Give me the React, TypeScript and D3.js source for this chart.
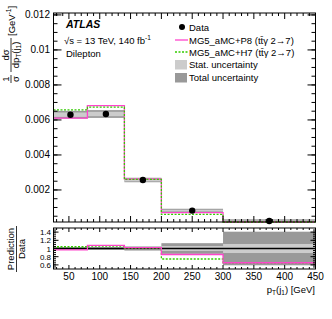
import * as d3 from "d3";

// pT(j1) bins [GeV] and normalised cross sections [GeV^-1]
const binEdges = [25, 80, 140, 200, 300, 450];
const dataValues = [0.0063, 0.00634, 0.00257, 0.00082, 0.00023];
const p8Values = [0.0061, 0.00682, 0.00262, 0.0007, 0.00015];
const h7Values = [0.00657, 0.00673, 0.0026, 0.00061, 0.00015];
// relative uncertainties
const statRel = [0.02, 0.02, 0.03, 0.06, 0.11];
const totalRel = [0.035, 0.035, 0.05, 0.13, 0.41];

const ratioTicks = [0.6, 0.8, 1, 1.2, 1.4];

const font = "'Liberation Sans', Arial, sans-serif";
const pink = "#ff44cc";
const green = "#33cc00";
const statColor = "#cccccc";
const totalColor = "#999999";

const W = 332;
const H = 319;
const frame = { left: 53.5, right: 315.5 };
const main = { top: 13, bottom: 222 };
const ratio = { top: 228, bottom: 269 };

const x = d3.scaleLinear().domain([25, 450]).range([frame.left, frame.right]);
const y = d3.scaleLinear().domain([0.00017, 0.01211]).range([main.bottom, main.top]);
const yr = d3.scaleLinear().domain([0.5, 1.5]).range([ratio.bottom, ratio.top]);

const bins = dataValues.map((v, i) => ({
  lo: binEdges[i],
  hi: binEdges[i + 1],
  data: v,
  p8: p8Values[i],
  h7: h7Values[i],
  stat: statRel[i],
  total: totalRel[i]
}));

const stepPath = (vals: number[], ys: d3.ScaleLinear<number, number>) => {
  const pts: [number, number][] = vals.map((v, i) => [binEdges[i], v]);
  pts.push([binEdges[binEdges.length - 1], vals[vals.length - 1]]);
  const lo = ys.domain()[0];
  const hi = ys.domain()[1];
  return d3
    .line<[number, number]>()
    .x(d => x(d[0]))
    .y(d => ys(Math.max(lo, Math.min(hi, d[1]))))
    .curve(d3.curveStepAfter)(pts) as string;
};

const xMajor = d3.range(50, 451, 50);
const xMinor = d3.range(30, 451, 10).filter(v => v % 50 !== 0);
const yMajor = y.ticks(6);
const yMinor = d3.range(0.0005, 0.01211, 0.0005).filter(v => v >= 0.00017);
const yrMinor = d3.range(0.55, 1.5, 0.05);
const fmt = d3.format("~g");

const Frame = ({ top, bottom, big }: { top: number; bottom: number; big: boolean }) => {
  const xl = big ? 6 : 4;
  const xs = big ? 3 : 2;
  return (
    <g stroke="#000" strokeWidth={1}>
      {xMajor.map(v => (
        <g key={"M" + v}>
          <line x1={x(v)} x2={x(v)} y1={bottom} y2={bottom - xl} />
          <line x1={x(v)} x2={x(v)} y1={top} y2={top + xl} />
        </g>
      ))}
      {xMinor.map(v => (
        <g key={"m" + v}>
          <line x1={x(v)} x2={x(v)} y1={bottom} y2={bottom - xs} />
          <line x1={x(v)} x2={x(v)} y1={top} y2={top + xs} />
        </g>
      ))}
      <rect x={frame.left} y={top} width={frame.right - frame.left} height={bottom - top} fill="none" />
    </g>
  );
};

export default function App() {
  return (
    <svg
      width={W}
      height={H}
      style={{ position: "absolute", left: 0, top: 0, background: "#fff" }}
      fontFamily={font}
    >
      {/* main panel bands */}
      {bins.map((b, i) => (
        <g key={"band" + i}>
          <rect
            x={x(b.lo)}
            width={x(b.hi) - x(b.lo)}
            y={y(b.data * (1 + b.total))}
            height={y(b.data * (1 - b.total)) - y(b.data * (1 + b.total))}
            fill={totalColor}
          />
          <rect
            x={x(b.lo)}
            width={x(b.hi) - x(b.lo)}
            y={y(b.data * (1 + b.stat))}
            height={y(b.data * (1 - b.stat)) - y(b.data * (1 + b.stat))}
            fill={statColor}
          />
        </g>
      ))}
      <path d={stepPath(p8Values, y)} fill="none" stroke={pink} strokeWidth={1.3} />
      <path d={stepPath(h7Values, y)} fill="none" stroke={green} strokeWidth={1.3} strokeDasharray="2,1.5" />
      {bins.map((b, i) => (
        <circle key={"pt" + i} cx={x((b.lo + b.hi) / 2)} cy={y(b.data)} r={3.2} fill="#000" />
      ))}
      <Frame top={main.top} bottom={main.bottom} big={true} />
      <g stroke="#000">
        {yMajor.map(v => (
          <g key={"ym" + v}>
            <line x1={frame.left} x2={frame.left + 8} y1={y(v)} y2={y(v)} />
            <line x1={frame.right} x2={frame.right - 8} y1={y(v)} y2={y(v)} />
          </g>
        ))}
        {yMinor.map(v => (
          <g key={"yn" + v}>
            <line x1={frame.left} x2={frame.left + 4} y1={y(v)} y2={y(v)} />
            <line x1={frame.right} x2={frame.right - 4} y1={y(v)} y2={y(v)} />
          </g>
        ))}
      </g>
      {yMajor.map(v => (
        <text key={"yl" + v} x={50} y={y(v) + 3.5} fontSize={10} textAnchor="end" fill="#000">
          {fmt(v)}
        </text>
      ))}

      {/* labels inside the main panel */}
      <text x={66} y={28} fontSize={10.5} fontWeight="bold" fontStyle="italic">ATLAS</text>
      <text x={64} y={44} fontSize={9.5}>
        √s = 13 TeV, 140 fb<tspan dy={-4} fontSize={6.5}>-1</tspan>
      </text>
      <text x={66} y={57} fontSize={9.5}>Dilepton</text>

      {/* legend */}
      <circle cx={182} cy={27} r={3} fill="#000" />
      <text x={189} y={30.5} fontSize={9.5}>Data</text>
      <line x1={175} x2={188} y1={40} y2={40} stroke={pink} strokeWidth={1.3} />
      <text x={189} y={43.5} fontSize={9.5}>MG5_aMC+P8 (tt̄γ 2→7)</text>
      <line x1={175} x2={188} y1={52} y2={52} stroke={green} strokeWidth={1.3} strokeDasharray="2,1.5" />
      <text x={189} y={55.5} fontSize={9.5}>MG5_aMC+H7 (tt̄γ 2→7)</text>
      <rect x={175} y={60} width={12} height={9.5} fill={statColor} />
      <text x={189} y={68} fontSize={9.5}>Stat. uncertainty</text>
      <rect x={175} y={73} width={12} height={9.5} fill={totalColor} />
      <text x={189} y={81} fontSize={9.5}>Total uncertainty</text>

      {/* y title: 1/sigma dsigma/dpT(j1) [GeV^-1] */}
      <g transform="rotate(-90)" fontSize={9.5}>
        <text x={-79} y={9} textAnchor="middle">1</text>
        <line x1={-83} x2={-75} y1={11} y2={11} stroke="#000" strokeWidth={0.8} />
        <text x={-79} y={19} textAnchor="middle">σ</text>
        <text x={-55} y={9} textAnchor="middle">dσ</text>
        <line x1={-72} x2={-38} y1={11} y2={11} stroke="#000" strokeWidth={0.8} />
        <text x={-55} y={19} textAnchor="middle">
          dp<tspan dy={2} fontSize={6.5}>T</tspan>
          <tspan dy={-2}>(j</tspan>
          <tspan dy={2} fontSize={6.5}>1</tspan>
          <tspan dy={-2}>)</tspan>
        </text>
        <text x={-36} y={15}>
          [GeV<tspan dy={-4} fontSize={6.5}>-1</tspan>
          <tspan dy={4}>]</tspan>
        </text>
      </g>

      {/* ratio panel */}
      {bins.map((b, i) => (
        <g key={"rband" + i}>
          <rect
            x={x(b.lo)}
            width={x(b.hi) - x(b.lo)}
            y={yr(Math.min(1.5, 1 + b.total))}
            height={yr(Math.max(0.5, 1 - b.total)) - yr(Math.min(1.5, 1 + b.total))}
            fill={totalColor}
          />
          <rect
            x={x(b.lo)}
            width={x(b.hi) - x(b.lo)}
            y={yr(1 + b.stat)}
            height={yr(1 - b.stat) - yr(1 + b.stat)}
            fill={statColor}
          />
        </g>
      ))}
      <line x1={frame.left} x2={frame.right} y1={yr(1)} y2={yr(1)} stroke="#000" strokeWidth={1.3} />
      <path
        d={stepPath(h7Values.map((v, i) => v / dataValues[i]), yr)}
        fill="none"
        stroke={green}
        strokeWidth={1.3}
        strokeDasharray="2,1.5"
      />
      <path d={stepPath(p8Values.map((v, i) => v / dataValues[i]), yr)} fill="none" stroke={pink} strokeWidth={1.3} />
      <Frame top={ratio.top} bottom={ratio.bottom} big={false} />
      <g stroke="#000">
        {ratioTicks.map(v => (
          <g key={"rt" + v}>
            <line x1={frame.left} x2={frame.left + 5} y1={yr(v)} y2={yr(v)} />
            <line x1={frame.right} x2={frame.right - 5} y1={yr(v)} y2={yr(v)} />
          </g>
        ))}
        {yrMinor.map(v => (
          <g key={"rm" + v}>
            <line x1={frame.left} x2={frame.left + 2.5} y1={yr(v)} y2={yr(v)} />
            <line x1={frame.right} x2={frame.right - 2.5} y1={yr(v)} y2={yr(v)} />
          </g>
        ))}
      </g>
      {ratioTicks.map(v => (
        <text key={"rl" + v} x={51} y={yr(v) + 3} fontSize={8} textAnchor="end">
          {fmt(v)}
        </text>
      ))}
      {xMajor.map(v => (
        <text key={"xl" + v} x={x(v)} y={280} fontSize={10} textAnchor="middle">
          {v}
        </text>
      ))}
      <g transform="rotate(-90)" fontSize={9.5}>
        <text x={-249} y={14} textAnchor="middle">Prediction</text>
        <line x1={-272} x2={-226} y1={16.5} y2={16.5} stroke="#000" strokeWidth={0.8} />
        <text x={-249} y={25} textAnchor="middle">Data</text>
      </g>
      <text x={315} y={293} fontSize={9.5} textAnchor="end">
        p<tspan dy={2} fontSize={6.5}>T</tspan>
        <tspan dy={-2}>(j</tspan>
        <tspan dy={2} fontSize={6.5}>1</tspan>
        <tspan dy={-2}>) [GeV]</tspan>
      </text>
    </svg>
  );
}
